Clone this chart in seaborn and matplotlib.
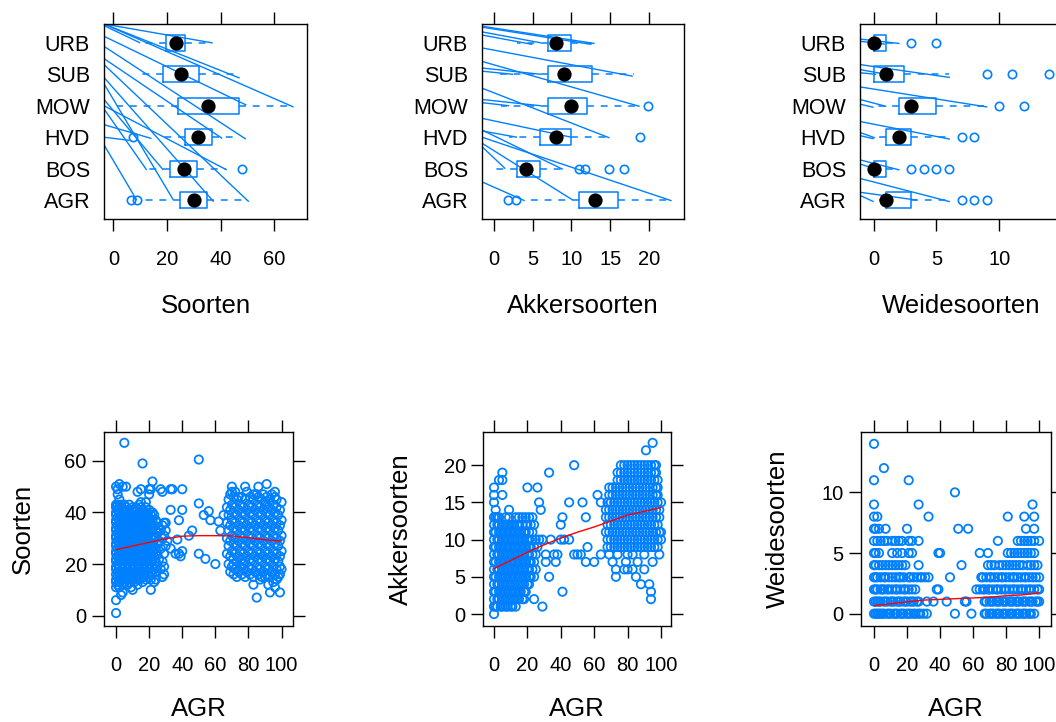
import matplotlib
matplotlib.use("Agg")
import matplotlib.pyplot as plt
import numpy as np
import pandas as pd
import seaborn as sns

sns.set_theme(style="white")
plt.rcParams["font.family"] = ["Liberation Sans", "DejaVu Sans"]

BLUE = "#0080FF"
W_PX, H_PX = 1056, 722

# ---------------- land-use groups (bottom to top) ----------------
groups = ["AGR", "BOS", "HVD", "MOW", "SUB", "URB"]

# box summaries per land-use group: lower whisker, Q1, median, Q3, upper whisker
soorten_lo = [11, 12, 17, 1.5, 10, 10]
soorten_q1 = [25, 21, 26.7, 24.2, 18.4, 19.5]
soorten_med = [30, 26.5, 31.4, 35.4, 25.2, 23.2]
soorten_q3 = [35, 31.3, 36.9, 47, 31.9, 26.7]
soorten_hi = [49.7, 42, 44.6, 67, 46.6, 37]
soorten_out = [[6.6, 8.7], [47.9], [7.5], [], [], []]

akker_lo = [4, 0, 2, 1, 0, 3]
akker_q1 = [11, 3, 6, 7, 7, 7]
akker_med = [13, 4.2, 8, 10, 9.1, 8]
akker_q3 = [16, 6, 10, 12, 12.6, 10]
akker_hi = [23, 9, 15, 19, 18, 13]
akker_out = [[1.8, 2.9], [11, 11.8, 14.8, 16.8], [18.8], [19.9], [], []]

weide_lo = [0, 0, 0, 0, 0, 0]
weide_q1 = [1, 0, 1, 2, 0, 0]
weide_med = [1, 0, 2, 3, 1, 0]
weide_q3 = [3, 1, 3, 5, 2.4, 1]
weide_hi = [6, 2, 6, 9, 6, 2]
weide_out = [[7, 8, 9], [3, 4, 5, 6], [7, 8], [10, 12], [9, 11, 14], [3, 5]]

# stray connector strokes: start height at left border, end point (value, group position)
soorten_seg_start = [6.6, 6.6, 6.6, 6.55, 6.21, 5.89, 5.5, 5.31, 4.9, 4.7, 4.2, 4.0, 3.9, 3.4, 2.76, 3.0]
soorten_seg_end_x = [36.9, 47.1, 67.2, 10, 49.6, 49.4, 40.6, 50.5, 37.4, 22.4, 18.6, 42.3, 12.4, 14.2, 8.7, 6.0]
soorten_seg_end_y = [6.0, 4.88, 3.96, 6.0, 4.02, 2.94, 2.96, 0.95, 0.95, 1.0, 1.96, 1.96, 1.96, 2.96, 1.0, 2.9]

akker_seg_start = [6.53, 6.5, 6.35, 6.25, 5.84, 5.41, 5.2, 5.1, 4.56, 4.2, 4.1, 3.6, 3.23, 3.2, 2.81, 3.0, 2.7, 1.58]
akker_seg_end_x = [13, 12.6, 6.1, 5, 17.9, 18.8, 6.1, 2.5, 14.9, 6.1, 2, 10, 8.9, 3, 10.2, 22.9, 1.5, 4.0]
akker_seg_end_y = [5.98, 5.95, 6.0, 5.95, 4.94, 3.98, 5.0, 5.0, 2.98, 4.0, 4.0, 3.0, 1.98, 3.0, 1.0, 0.98, 2.0, 0.98]

weide_seg_start = [6.12, 6.05, 5.31, 5.15, 5.05, 4.6, 4.2, 4.05, 3.5, 3.15, 3.05, 2.28, 2.15, 1.69, 1.25, 1.15]
weide_seg_end_x = [2.06, 0.9, 6.07, 1.0, 0.2, 9.06, 1.0, 0.0, 6.07, 0.1, 0.0, 2.06, 0.2, 6.07, 3.45, 0.0]
weide_seg_end_y = [5.98, 5.96, 4.9, 5.0, 5.0, 3.96, 3.98, 3.95, 2.94, 2.98, 2.95, 1.96, 1.98, 0.95, 1.0, 0.95]

# ---------------- site scatter data: AGR (%) -> species counts ----------------
soorten_by_agr = {
    0: [1, 6, 11, 13, 14, 16, 18, 19, 21, 22, 24, 25, 27, 28, 30, 31, 33, 34, 36, 37, 39, 40, 42, 43, 50],
    1: [12, 15, 17, 20, 23, 26, 29, 32, 35, 38, 41, 43, 47, 49],
    2: [11, 13, 16, 19, 22, 25, 28, 31, 34, 37, 40, 42, 45, 51],
    3: [8, 14, 17, 21, 24, 27, 30, 33, 36, 39, 43],
    4: [9, 12, 15, 18, 20, 23, 26, 29, 32, 35, 38, 41, 50],
    5: [13, 16, 19, 22, 25, 28, 31, 34, 37, 40, 43, 67],
    6: [14, 17, 21, 24, 27, 30, 33, 36, 39, 42, 50],
    7: [12, 15, 18, 20, 23, 26, 29, 32, 35, 38, 41],
    8: [13, 16, 19, 22, 25, 28, 31, 34, 37, 40, 43],
    9: [11, 14, 17, 21, 24, 27, 30, 33, 36, 39],
    10: [10, 15, 18, 20, 23, 26, 29, 32, 35, 38, 41, 42],
    11: [13, 16, 19, 22, 25, 28, 31, 34, 37, 40],
    12: [14, 17, 21, 24, 27, 30, 33, 36, 39, 42],
    13: [12, 15, 18, 20, 23, 26, 29, 32, 35, 38, 41, 48],
    14: [14, 16, 19, 22, 25, 28, 31, 34, 37, 40, 43],
    15: [15, 17, 21, 24, 27, 30, 33, 36, 39, 42, 44, 49],
    16: [13, 16, 19, 22, 25, 28, 31, 34, 37, 41, 59],
    17: [15, 18, 20, 23, 26, 29, 32, 35, 38, 40],
    18: [14, 17, 21, 24, 27, 30, 33, 36, 39, 42, 44],
    19: [16, 19, 22, 25, 28, 31, 34, 37, 40],
    20: [15, 18, 20, 23, 26, 29, 32, 35, 38, 41, 47, 49],
    21: [10, 14, 17, 21, 24, 27, 30, 33, 36, 39, 49],
    22: [16, 19, 22, 25, 28, 31, 34, 37, 40, 52],
    23: [13, 18, 23, 27, 31, 35, 39],
    24: [14, 17, 21, 26, 30, 33, 37],
    25: [19, 24, 28, 32, 36],
    26: [22, 29, 34],
    27: [18, 26, 33, 49],
    28: [15, 21, 30, 35, 48],
    29: [16, 19, 24, 31, 36],
    30: [27, 33, 36],
    31: [29],
    33: [26, 41, 49],
    34: [49],
    36: [24],
    37: [29.5],
    38: [24, 37],
    39: [23],
    40: [25, 41, 49],
    44: [31],
    46: [33],
    50: [24, 43.5, 60.5],
    53: [39],
    54: [22],
    56: [40.5],
    57: [37],
    60: [20],
    62: [36.5],
    63: [33],
    65: [39],
    67: [24, 30, 36, 42],
    68: [20, 27, 33, 39, 45],
    69: [17, 23, 29, 35, 41, 47],
    70: [19, 25, 31, 37, 43, 48, 50],
    71: [16, 20, 22, 28, 34, 40, 46],
    72: [18, 24, 30, 36, 42, 48],
    73: [15, 21, 27, 33, 39, 45],
    74: [17, 23, 29, 35, 41, 46],
    75: [19, 25, 31, 37, 43],
    76: [16, 22, 28, 34, 40, 46],
    77: [18, 20, 24, 30, 36, 42],
    78: [15, 21, 27, 33, 39, 45, 50],
    79: [17, 23, 29, 35, 41, 48],
    80: [19, 25, 31, 37, 43],
    81: [16, 22, 28, 34, 40, 46],
    82: [18, 24, 30, 36, 42],
    83: [12, 15, 21, 27, 33, 39, 45, 47],
    84: [17, 23, 29, 35, 41],
    85: [7, 19, 25, 31, 37, 43, 47],
    86: [16, 22, 28, 34, 40, 46, 50],
    87: [14, 18, 24, 30, 36, 42],
    88: [15, 21, 27, 33, 39, 45],
    89: [17, 23, 29, 35, 41, 47],
    90: [15, 19, 25, 31, 37, 43, 44],
    91: [16, 22, 28, 34, 40, 46, 51],
    92: [12, 18, 24, 30, 36, 42],
    93: [9, 15, 21, 27, 33, 39, 45],
    94: [17, 23, 29, 35, 41, 47],
    95: [13, 19, 25, 31, 37, 43],
    96: [11, 16, 22, 28, 34, 40, 46, 48],
    97: [14, 18, 24, 30, 36, 42, 45],
    98: [15, 21, 27, 33, 39],
    99: [9, 16, 19, 23, 29, 35, 41],
    100: [18, 25, 31, 37, 44],
}

akker_by_count = {
    0: [0],
    1: [0, 1, 2, 4, 5, 7, 8, 10, 11, 13, 29],
    2: [0, 2, 3, 5, 6, 8, 9, 11, 12, 14, 15, 17, 18, 24, 94],
    3: [0, 1, 3, 4, 6, 7, 9, 10, 12, 13, 15, 16, 18, 19, 41, 94],
    4: [0, 2, 3, 5, 6, 8, 9, 11, 12, 14, 15, 17, 18, 20, 21, 88, 93],
    5: [0, 1, 3, 4, 6, 7, 9, 10, 12, 13, 15, 16, 18, 19, 21, 22, 24, 33, 73, 85],
    6: [0, 2, 3, 5, 6, 8, 9, 11, 12, 14, 15, 17, 18, 20, 21, 23, 25, 73, 78, 80, 83, 90],
    7: [0, 1, 3, 4, 6, 7, 9, 10, 12, 13, 15, 16, 18, 19, 21, 22, 24, 31, 37, 55, 60, 71, 79, 86, 95],
    8: [0, 2, 3, 5, 6, 8, 9, 11, 12, 14, 15, 17, 18, 20, 21, 23, 25, 31, 36, 38, 48, 50, 52, 64, 69, 74, 80, 83, 90, 99],
    9: [0, 1, 3, 4, 6, 7, 9, 10, 12, 13, 15, 16, 18, 19, 21, 22, 24, 26, 56,
        68, 70, 72, 74, 76, 78, 80, 82, 84, 86, 88, 90, 92, 94, 96, 98],
    10: [0, 2, 3, 5, 6, 8, 9, 11, 12, 14, 15, 17, 18, 20, 21, 23, 25, 27, 29, 34, 40, 42, 45,
         68, 70, 72, 74, 76, 78, 80, 82, 84, 86, 88, 90, 92, 94, 96, 98, 100],
    11: [0, 1, 3, 4, 6, 7, 9, 10, 12, 13, 15, 16, 18, 19, 21, 23,
         67, 69, 71, 73, 75, 77, 79, 81, 83, 85, 87, 89, 91, 93, 95, 97, 99, 100],
    12: [0, 2, 3, 5, 6, 8, 9, 11, 12, 14, 15, 17, 19, 20, 22, 24, 40,
         68, 70, 72, 74, 76, 78, 80, 82, 84, 86, 88, 90, 92, 94, 96, 98],
    13: [0, 1, 2, 3, 7, 9, 13, 15, 17, 19, 21, 23, 41, 55,
         67, 69, 71, 73, 75, 77, 79, 81, 83, 85, 87, 89, 91, 93, 95, 97, 99],
    14: [1, 9, 28, 67, 69, 71, 73, 75, 77, 79, 81, 83, 85, 87, 89, 91, 93, 95, 97, 99],
    15: [0, 27, 45, 53, 64, 68, 70, 72, 74, 76, 78, 80, 82, 84, 86, 88, 90, 92, 94, 96, 98, 100],
    16: [0, 5, 62, 69, 71, 73, 75, 77, 79, 81, 83, 85, 87, 89, 91, 93, 95, 97, 98],
    17: [0, 20, 26, 69, 71, 73, 75, 77, 79, 81, 83, 85, 87, 89, 91, 93, 95, 97, 98],
    18: [3, 5, 74, 76, 78, 80, 82, 84, 86, 88, 90, 92, 94, 96, 98],
    19: [5, 33, 74, 76, 78, 80, 82, 84, 86, 88, 90, 92, 94, 96, 97],
    20: [48, 76, 78, 80, 82, 84, 86, 88, 90, 92, 94, 96, 97],
    22: [91],
    23: [95],
}

weide_by_count = {
    0: [0, 1, 2, 3, 4, 5, 6, 8, 9, 10, 12, 13, 14, 16, 17, 18, 20, 21, 22, 24, 25, 27, 28, 30, 32, 49, 59,
        67, 68, 70, 71, 72, 74, 75, 76, 78, 79, 80, 82, 83, 84, 86, 87, 88, 90, 91, 92, 94, 95, 97],
    1: [0, 1, 2, 3, 4, 6, 7, 8, 10, 11, 12, 14, 15, 16, 18, 19, 20, 22, 23, 24, 26, 27, 32, 36, 44, 55, 56,
        67, 68, 70, 71, 72, 74, 75, 76, 78, 79, 80, 82, 83, 84, 86, 87, 88, 90, 91, 92, 94, 95, 96, 98, 99, 100],
    2: [0, 1, 2, 4, 5, 6, 8, 9, 11, 13, 14, 16, 18, 19, 21, 23, 25, 38, 39, 62, 64,
        66, 67, 69, 70, 72, 74, 75, 77, 79, 80, 82, 84, 85, 87, 89, 90, 92, 94, 95, 97, 99, 100],
    3: [0, 1, 2, 4, 6, 7, 9, 11, 13, 15, 16, 18, 21, 22, 24, 26, 28, 29, 31, 33, 46,
        65, 66, 68, 70, 71, 73, 75, 77, 78, 80, 82, 84, 85, 87, 89, 91, 92, 94, 96, 98, 100],
    4: [0, 1, 3, 5, 7, 9, 11, 13, 15, 17, 19, 27, 53,
        69, 71, 73, 76, 78, 80, 82, 84, 86, 88, 90, 93, 95, 97, 99],
    5: [0, 1, 3, 11, 14, 17, 21, 23, 39, 40, 64, 69, 81, 83, 85, 87, 89, 91, 93, 95, 97],
    6: [0, 2, 4, 6, 8, 11, 13, 15, 17, 21, 23, 27, 75, 87, 89, 91, 93, 95, 97, 100],
    7: [0, 1, 3, 7, 20, 51, 57, 92, 97],
    8: [0, 2, 33, 81, 91, 97],
    9: [0, 27, 96],
    10: [49],
    11: [0, 21],
    12: [6],
    14: [0],
}

# loess-type smooth through each scatter
smooth_agr = [0, 10, 20, 30, 40, 50, 60, 70, 80, 90, 100]
smooth_soorten = [25.6, 27.0, 28.4, 29.8, 30.8, 31.0, 31.0, 30.9, 30.2, 29.4, 28.9]
smooth_akker = [6.1, 7.2, 8.3, 9.3, 10.2, 11.0, 11.7, 12.5, 13.3, 13.8, 14.3]
smooth_weide = [0.66, 0.82, 0.97, 1.12, 1.18, 1.24, 1.30, 1.36, 1.48, 1.55, 1.72]


def flatten(mapping, key_is_x):
    xs, ys = [], []
    for k, vals in mapping.items():
        for v in vals:
            if key_is_x:
                xs.append(k); ys.append(v)
            else:
                xs.append(v); ys.append(k)
    return pd.DataFrame({"AGR": xs, "y": ys})


def px_axes(fig, left, right, top, bottom):
    return fig.add_axes([left / W_PX, 1 - bottom / H_PX, (right - left) / W_PX, (bottom - top) / H_PX])


def style_frame(ax):
    for s in ax.spines.values():
        s.set_visible(True)
        s.set_color("black")
        s.set_linewidth(1.0)
    ax.set_facecolor("white")
    ax.grid(False)


def box_panel(ax, lo, q1, med, q3, hi, outl, xlim, xticks, seg_start, seg_x, seg_y):
    stats = []
    for i in range(len(groups)):
        stats.append(dict(whislo=lo[i], q1=q1[i], med=med[i], q3=q3[i], whishi=hi[i], fliers=outl[i]))
    pos = np.arange(1, len(groups) + 1)
    kw = dict(positions=pos, widths=0.5, showcaps=False, patch_artist=False,
              boxprops=dict(color=BLUE, linewidth=1.1),
              whiskerprops=dict(color=BLUE, linewidth=1.1, linestyle=(0, (4.5, 4.5))),
              medianprops=dict(linewidth=0),
              flierprops=dict(marker="o", markerfacecolor="none", markeredgecolor=BLUE,
                              markersize=6, markeredgewidth=1.2))
    try:
        ax.bxp(stats, orientation="horizontal", **kw)
    except TypeError:
        ax.bxp(stats, vert=False, **kw)
    for s0, ex, ey in zip(seg_start, seg_x, seg_y):
        ax.plot([xlim[0], ex], [s0, ey], color=BLUE, lw=1.0, solid_capstyle="butt")
    med_df = pd.DataFrame({"med": med, "pos": pos})
    sns.scatterplot(data=med_df, x="med", y="pos", ax=ax, color="black", s=105,
                    edgecolor="black", linewidth=0, zorder=5, legend=False)
    ax.set_xlim(*xlim)
    ax.set_ylim(0.4, 6.6)
    ax.set_yticks(pos)
    ax.set_yticklabels(groups)
    ax.set_xticks(xticks)
    ax.set_xlabel("")
    ax.set_ylabel("")
    style_frame(ax)
    ax.tick_params(axis="x", which="both", direction="out", length=8.6, width=1.0,
                   top=True, bottom=True, labeltop=False, labelbottom=True,
                   labelsize=14.5, pad=13.5, colors="black")
    ax.tick_params(axis="y", which="both", length=0, left=False, right=False,
                   labelsize=15.5, pad=10, colors="black")


def scatter_panel(ax, df, sx, sy, xlim, ylim, yticks):
    sns.scatterplot(data=df, x="AGR", y="y", ax=ax, marker="o", s=36,
                    facecolor="none", edgecolor=BLUE, linewidth=1.3, legend=False)
    sm = pd.DataFrame({"AGR": sx, "fit": sy})
    sns.lineplot(data=sm, x="AGR", y="fit", ax=ax, color="red", lw=1.0, legend=False)
    ax.set_xlim(*xlim)
    ax.set_ylim(*ylim)
    ax.set_xticks([0, 20, 40, 60, 80, 100])
    ax.set_yticks(yticks)
    ax.set_xlabel("")
    ax.set_ylabel("")
    style_frame(ax)
    ax.tick_params(axis="x", which="both", direction="out", length=8.6, width=1.0,
                   top=True, bottom=True, labeltop=False, labelbottom=True,
                   labelsize=14.5, pad=13.5, colors="black")
    ax.tick_params(axis="y", which="both", direction="out", length=8.6, width=1.0,
                   left=True, right=True, labelleft=True, labelright=False,
                   labelsize=14.5, pad=4, colors="black")


fig = plt.figure(figsize=(W_PX / 100, H_PX / 100), dpi=100)
fig.patch.set_facecolor("white")

ax1 = px_axes(fig, 104, 307, 24, 219)
box_panel(ax1, soorten_lo, soorten_q1, soorten_med, soorten_q3, soorten_hi, soorten_out,
          (-3.5, 72.2), [0, 20, 40, 60], soorten_seg_start, soorten_seg_end_x, soorten_seg_end_y)
ax2 = px_axes(fig, 482, 684, 24, 219)
box_panel(ax2, akker_lo, akker_q1, akker_med, akker_q3, akker_hi, akker_out,
          (-1.5, 24.5), [0, 5, 10, 15, 20], akker_seg_start, akker_seg_end_x, akker_seg_end_y)
ax3 = px_axes(fig, 860, 1062, 24, 219)
box_panel(ax3, weide_lo, weide_q1, weide_med, weide_q3, weide_hi, weide_out,
          (-1.09, 15.0), [0, 5, 10], weide_seg_start, weide_seg_end_x, weide_seg_end_y)

ax4 = px_axes(fig, 104.3, 293.3, 431.7, 625.7)
scatter_panel(ax4, flatten(soorten_by_agr, True), smooth_agr, smooth_soorten,
              (-7.1, 107.1), (-3.9, 71.3), [0, 20, 40, 60])
ax5 = px_axes(fig, 483.3, 671, 431.7, 625.7)
scatter_panel(ax5, flatten(akker_by_count, False), smooth_agr, smooth_akker,
              (-6.4, 106), (-1.57, 24.5), [0, 5, 10, 15, 20])
ax6 = px_axes(fig, 861.3, 1050.7, 431.7, 625.7)
scatter_panel(ax6, flatten(weide_by_count, False), smooth_agr, smooth_weide,
              (-7.7, 107), (-0.99, 15.0), [0, 5, 10])

lab = dict(fontsize=18.5, color="black")
for ax, txt in [(ax1, "Soorten"), (ax2, "Akkersoorten"), (ax3, "Weidesoorten")]:
    b = ax.get_position()
    fig.text((b.x0 + b.x1) / 2, 1 - 313 / H_PX, txt, ha="center", va="baseline", **lab)
for ax in (ax4, ax5, ax6):
    b = ax.get_position()
    fig.text((b.x0 + b.x1) / 2, 1 - 716 / H_PX, "AGR", ha="center", va="baseline", **lab)
for xc, txt in [(23, "Soorten"), (401, "Akkersoorten"), (778, "Weidesoorten")]:
    fig.text(xc / W_PX, 1 - 528.7 / H_PX, txt, rotation=90, ha="center", va="center", **lab)

fig.savefig("out.png", dpi=100, facecolor="white")
